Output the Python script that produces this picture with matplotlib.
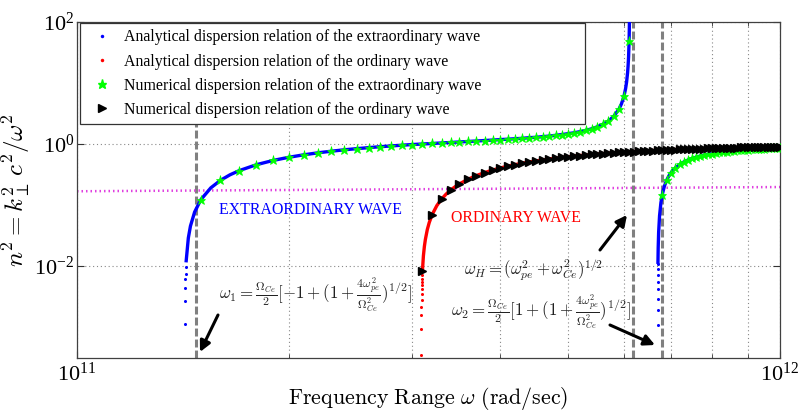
import numpy as np
import matplotlib
matplotlib.use('Agg')
import matplotlib.pyplot as plt
from matplotlib.lines import Line2D
from matplotlib.ticker import LogLocator, NullLocator, NullFormatter, FixedLocator

UNIT = 1e11  # frequencies below are in units of 1e11 rad/s

# ---- Numerical extraordinary wave (green stars), lower branch ----
num_xl_w = [1.5, 1.6, 1.7, 1.8, 1.9, 2.0, 2.1, 2.2, 2.3, 2.4, 2.5, 2.6, 2.7, 2.8, 2.9, 3.0,
            3.1, 3.2, 3.3, 3.4, 3.5, 3.6, 3.7, 3.8, 3.9, 4.0, 4.1, 4.2, 4.3, 4.4, 4.5, 4.6,
            4.7, 4.8, 4.9, 5.0, 5.1, 5.2, 5.3, 5.4, 5.5, 5.6, 5.7, 5.8, 5.9, 6.0, 6.1]
num_xl_n = [0.122, 0.254, 0.365, 0.458, 0.537, 0.605, 0.664, 0.716, 0.762, 0.803, 0.839, 0.872,
            0.903, 0.93, 0.956, 0.98, 1.0, 1.02, 1.04, 1.06, 1.08, 1.1, 1.12, 1.14, 1.16, 1.18,
            1.2, 1.22, 1.24, 1.27, 1.29, 1.32, 1.35, 1.39, 1.43, 1.48, 1.53, 1.6, 1.68, 1.78,
            1.92, 2.11, 2.38, 2.84, 3.71, 6.15, 48.3]
# ---- Numerical extraordinary wave (green stars), upper branch ----
num_xu_w = [6.8, 6.9, 7.0, 7.1, 7.2, 7.3, 7.4, 7.5, 7.6, 7.7, 7.8, 7.9, 8.0, 8.1, 8.2, 8.3, 8.4,
            8.5, 8.6, 8.7, 8.8, 8.9, 9.0, 9.1, 9.2, 9.3, 9.4, 9.5, 9.6, 9.7, 9.8, 9.9, 10.0]
num_xu_n = [0.148, 0.256, 0.341, 0.408, 0.463, 0.509, 0.548, 0.581, 0.61, 0.635, 0.658, 0.678,
            0.696, 0.712, 0.726, 0.74, 0.752, 0.763, 0.773, 0.783, 0.791, 0.8, 0.807, 0.814,
            0.821, 0.827, 0.833, 0.839, 0.844, 0.849, 0.854, 0.858, 0.862]
# ---- Numerical ordinary wave (black triangles) ----
num_o_w = [3.1, 3.2, 3.3, 3.4, 3.5, 3.6, 3.7, 3.8, 3.9, 4.0, 4.1, 4.2, 4.3, 4.4, 4.5, 4.6, 4.7,
           4.8, 4.9, 5.0, 5.1, 5.2, 5.3, 5.4, 5.5, 5.6, 5.7, 5.8, 5.9, 6.0, 6.1, 6.2, 6.3, 6.4,
           6.5, 6.6, 6.7, 6.8, 6.9, 7.0, 7.1, 7.2, 7.3, 7.4, 7.5, 7.6, 7.7, 7.8, 7.9, 8.0, 8.1,
           8.2, 8.3, 8.4, 8.5, 8.6, 8.7, 8.8, 8.9, 9.0, 9.1, 9.2, 9.3, 9.4, 9.5, 9.6, 9.7, 9.8,
           9.9, 10.0]
num_o_n = [0.008325, 0.06934, 0.1249, 0.1756, 0.222, 0.2647, 0.3039, 0.34, 0.3734, 0.4044,
           0.4331, 0.4598, 0.4846, 0.5077, 0.5294, 0.5496, 0.5686, 0.5864, 0.6031, 0.6188,
           0.6336, 0.6476, 0.6607, 0.6732, 0.685, 0.6961, 0.7067, 0.7167, 0.7262, 0.7353,
           0.7439, 0.7521, 0.7599, 0.7673, 0.7744, 0.7812, 0.7877, 0.7939, 0.7998, 0.8055,
           0.811, 0.8162, 0.8212, 0.826, 0.8306, 0.835, 0.8393, 0.8434, 0.8473, 0.8511,
           0.8547, 0.8583, 0.8617, 0.8649, 0.8681, 0.8711, 0.8741, 0.8769, 0.8797, 0.8823,
           0.8849, 0.8874, 0.8898, 0.8921, 0.8944, 0.8966, 0.8987, 0.9008, 0.9028, 0.9047]

# ---- Analytical curves: extra points (besides the points above) ----
ana_xl_w = [1.43, 1.44, 1.45, 1.47, 1.55, 1.65, 5.95, 6.03, 6.05, 6.07, 6.08, 6.09, 6.105, 6.1065]
ana_xl_n = [0.0122, 0.0288, 0.0451, 0.0767, 0.191, 0.312, 4.56, 8.04, 10.3, 14.7, 19.0, 27.0, 80.7, 101.0]
ana_xu_w = [6.705, 6.71, 6.72, 6.74, 6.77, 6.85, 6.95]
ana_xu_n = [0.0115, 0.0197, 0.0358, 0.0665, 0.109, 0.206, 0.301]
ana_o_w = [3.11, 3.12, 3.13, 3.15, 3.17, 3.25, 3.35, 3.45]
ana_o_n = [0.0147, 0.021, 0.0272, 0.0396, 0.0516, 0.0978, 0.1508, 0.1993]
# analytical points close to the cut-offs (scattered dots)
cut_xl_w = [1.4234, 1.4243, 1.4253, 1.4263, 1.4271, 1.4285]
cut_xl_n = [0.00112, 0.00267, 0.00436, 0.0061, 0.0075, 0.0098]
cut_xu_w = [6.6987, 6.6992, 6.6998, 6.7006, 6.7013, 6.7023, 6.7035, 6.7046]
cut_xu_n = [0.00108, 0.0019, 0.00288, 0.0042, 0.0054, 0.0071, 0.009, 0.0108]
cut_o_w = [3.0876, 3.0885, 3.0895, 3.0904, 3.0914, 3.0925, 3.0936, 3.0947, 3.0956, 3.0965, 3.0981]
cut_o_n = [0.00035, 0.00093, 0.00157, 0.00213, 0.00277, 0.00348, 0.0042, 0.0049, 0.0055, 0.0061, 0.0071]

# ---- magenta reference line ----
mag_w = [1.0, 10.0]
mag_n = [0.168, 0.197]

# ---- characteristic frequencies (dashed lines) ----
w1_line = 1.477
wH_line = 6.18
w2_line = 6.79

legend_labels = ["Analytical dispersion relation of the extraordinary wave",
                 "Analytical dispersion relation of the ordinary wave",
                 "Numerical dispersion relation of the extraordinary wave",
                 "Numerical dispersion relation of the ordinary wave"]


def merge(wa, na, wb, nb):
    pairs = sorted(zip(list(wa) + list(wb), list(na) + list(nb)))
    return np.array([p[0] for p in pairs]) * UNIT, np.array([p[1] for p in pairs])


plt.rcParams['font.family'] = ['Liberation Serif', 'DejaVu Serif']
plt.rcParams['mathtext.fontset'] = 'cm'
plt.rcParams['axes.unicode_minus'] = False

fig = plt.figure(figsize=(8, 4.17), dpi=100)
AX_L, AX_R, AX_T, AX_B = 77, 780, 22, 357.5
ax = fig.add_axes([AX_L / 800, (417 - AX_B) / 417, (AX_R - AX_L) / 800, (AX_B - AX_T) / 417])
ax.set_xscale('log')
ax.set_yscale('log')


def P(x, y):
    return ((x - AX_L) / (AX_R - AX_L), (AX_B - y) / (AX_B - AX_T))


# dashed vertical lines
for wl in (w1_line, wH_line, w2_line):
    ax.axvline(wl * UNIT, color='#808080', lw=2.2, ls=(0, (2.6, 1.0)), zorder=1.5)

# magenta line
ax.plot(np.array(mag_w) * UNIT, mag_n, color='#e040e0', lw=1.8, ls=(0, (0.6, 1.2)), zorder=2)

BLUE = '#0000ff'
RED = '#ff0000'
# analytical extraordinary
w, n = merge(num_xl_w, num_xl_n, ana_xl_w, ana_xl_n)
ax.plot(w, n, color=BLUE, lw=2.4, zorder=3)
w, n = merge(num_xu_w, num_xu_n, ana_xu_w, ana_xu_n)
ax.plot(w, n, color=BLUE, lw=2.4, zorder=3)
ax.plot(np.array(cut_xl_w) * UNIT, cut_xl_n, ls='none', marker='o', ms=2.2, mew=0, color=BLUE, zorder=3)
ax.plot(np.array(cut_xu_w) * UNIT, cut_xu_n, ls='none', marker='o', ms=2.2, mew=0, color=BLUE, zorder=3)
# analytical ordinary
w, n = merge(num_o_w, num_o_n, ana_o_w, ana_o_n)
ax.plot(w, n, color=RED, lw=2.4, zorder=3)
ax.plot(np.array(cut_o_w) * UNIT, cut_o_n, ls='none', marker='o', ms=2.2, mew=0, color=RED, zorder=3)

# numerical
GREEN = '#00ff00'
ax.plot(np.array(num_xl_w) * UNIT, num_xl_n, ls='none', marker='*', ms=6.5, color=GREEN, mew=0.5, zorder=4)
ax.plot(np.array(num_xu_w) * UNIT, num_xu_n, ls='none', marker='*', ms=6.5, color=GREEN, mew=0.5, zorder=4)
ax.plot(np.array(num_o_w) * UNIT, num_o_n, ls='none', marker='>', ms=5.5, color='k', zorder=4)

ax.set_xlim(1e11, 1e12)
ax.set_ylim(10 ** -3.5, 100)

ax.yaxis.set_major_locator(FixedLocator([1e-2, 1e0, 1e2]))
ax.yaxis.set_minor_locator(NullLocator())
ax.xaxis.set_major_locator(FixedLocator([1e11, 1e12]))
ax.xaxis.set_minor_locator(LogLocator(base=10, subs=np.arange(2, 10)))
ax.xaxis.set_minor_formatter(NullFormatter())

ax.grid(True, which='major', ls=(0, (1, 2.5)), color='#888888', lw=0.8, zorder=1)
ax.grid(True, which='minor', axis='x', ls=(0, (1, 2.5)), color='#888888', lw=0.8, zorder=1)
ax.tick_params(which='both', direction='in', top=True, right=True, color='#333333')
ax.tick_params(which='major', length=5, width=0.8)
ax.tick_params(which='minor', length=3, width=0.6)
ax.tick_params(axis='x', labelsize=16, pad=4)
ax.tick_params(axis='y', labelsize=16, pad=2)
for s in ax.spines.values():
    s.set_color('#404040')
    s.set_linewidth(0.9)

ax.set_xlabel(r'$\mathrm{Frequency\ Range}\ \omega\ \mathrm{(rad/sec)}$', fontsize=15.8, labelpad=-1)
ax.set_ylabel(r'$n^2 = k_{\perp}^2\, c^2/\omega^2$', fontsize=18, labelpad=1)

# legend
handles = [Line2D([], [], ls='none', marker='o', ms=2.5, mew=0, color=BLUE),
           Line2D([], [], ls='none', marker='o', ms=2.5, mew=0, color=RED),
           Line2D([], [], ls='none', marker='*', ms=6.5, color=GREEN),
           Line2D([], [], ls='none', marker='>', ms=5.5, color='k')]
x0, y0 = P(80, 23)
x1, _ = P(585, 23)
leg = ax.legend(handles, legend_labels, loc='upper left', bbox_to_anchor=(x0, 0, x1 - x0, y0),
                mode='expand', fontsize=11.4, frameon=True, fancybox=False, framealpha=1,
                edgecolor='#333333', borderaxespad=0, handlelength=2.0, handletextpad=0.35,
                labelspacing=0.52, borderpad=0.4)
leg.get_frame().set_linewidth(0.9)
leg.set_zorder(10)

# texts
ax.text(*P(310, 210), 'EXTRAORDINARY WAVE', color=BLUE, fontsize=11.4, ha='center', va='center',
        transform=ax.transAxes)
ax.text(*P(516, 218), 'ORDINARY WAVE', color=RED, fontsize=11.4, ha='center', va='center',
        transform=ax.transAxes)
ax.text(*P(534, 270), r'$\omega_H = (\omega_{pe}^2 + \omega_{Ce}^2)^{1/2}$', fontsize=12,
        ha='center', va='center', transform=ax.transAxes, color='#222222')
ax.text(*P(315, 295),
        r'$\omega_1 = \frac{\Omega_{Ce}}{2}[-1 + (1+\frac{4\omega_{pe}^2}{\Omega_{Ce}^2})^{1/2}]$',
        fontsize=12.2, ha='center', va='center', transform=ax.transAxes, color='#222222')
ax.text(*P(541, 312),
        r'$\omega_2 = \frac{\Omega_{Ce}}{2}[1 + (1+\frac{4\omega_{pe}^2}{\Omega_{Ce}^2})^{1/2}]$',
        fontsize=12.2, ha='center', va='center', transform=ax.transAxes, color='#222222')

arrow = dict(arrowstyle='-|>', lw=2.2, color='k', mutation_scale=16, shrinkA=0, shrinkB=0)
for tail, head in [((218, 315), (200, 352)), ((600, 250), (627, 215)), ((610, 325), (655, 345))]:
    ax.annotate('', xy=P(*head), xytext=P(*tail), xycoords='axes fraction',
                textcoords='axes fraction', arrowprops=arrow, zorder=6)

fig.savefig('out.png', dpi=100)
